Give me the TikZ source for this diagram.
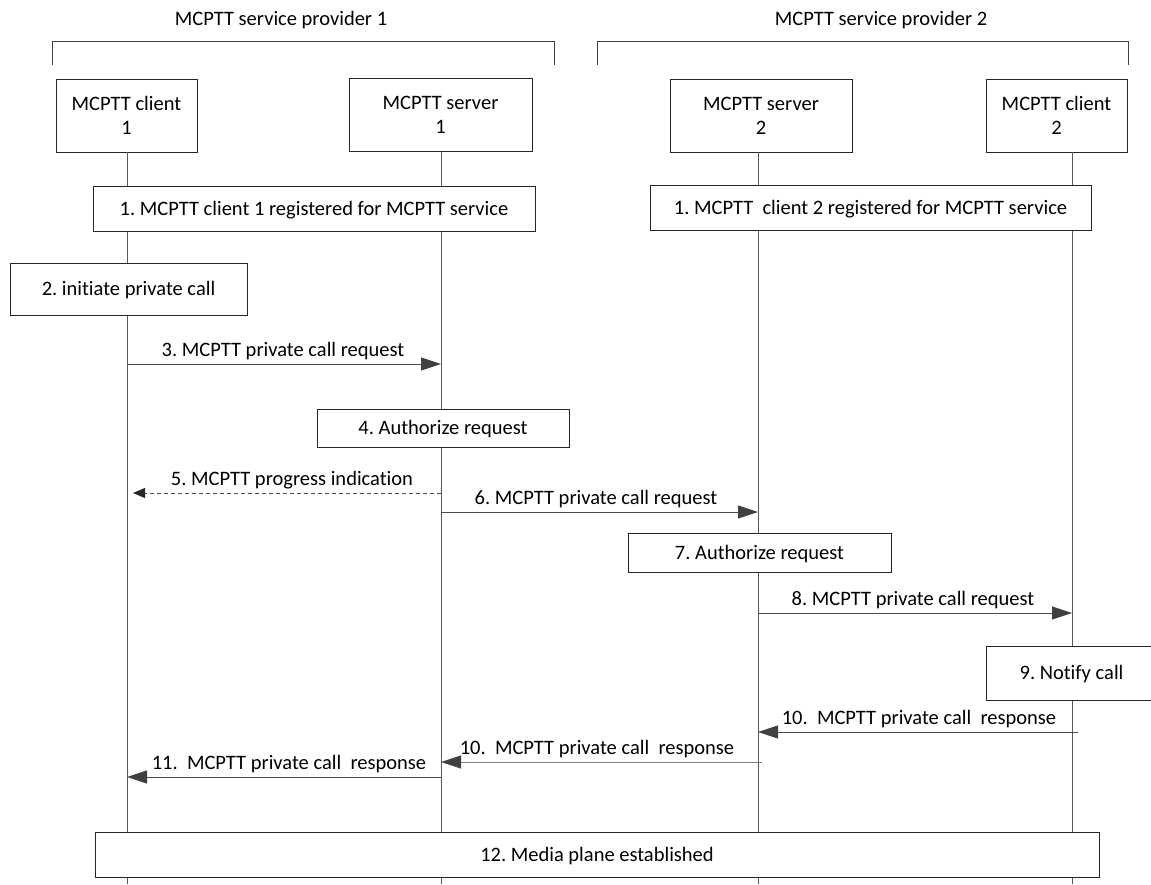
\documentclass[tikz,border=0pt]{standalone}
\usepackage{fontspec}
\setmainfont{Carlito}[Ligatures={NoCommon}]
\frenchspacing
\usetikzlibrary{arrows.meta}
\tikzset{
  every node/.style={font=\fontsize{20.5}{24}\selectfont, inner sep=0pt},
  hdr/.style={draw=black!85, line width=0.8pt, fill=white, align=center, minimum height=73pt},
  stepbox/.style={draw=black!85, line width=0.8pt, fill=white, text height=13.2pt, text depth=0pt},
  lifeline/.style={draw=black!65, line width=0.8pt},
  bracket/.style={draw=black!75, line width=0.8pt},
  msg/.style={draw=black!70, line width=0.8pt, -{Triangle[length=20pt,width=13pt,color=black!75]}},
  dmsg/.style={draw=black!70, line width=0.8pt, dash pattern=on 4pt off 3pt, -{Triangle[length=12pt,width=10pt,color=black!85]}},
  lbl/.style={anchor=base},
}
\begin{document}
\begin{tikzpicture}[x=1pt,y=-1pt]
\useasboundingbox (0,0) rectangle (1151,884);
% titles and brackets
\node (t1) at (281,20) {MCPTT service provider 1};
\node (t2) at (881,20) {MCPTT service provider 2};
\draw[bracket] (52,65) -- (52,41) -- (554,41) -- (554,65);
\draw[bracket] (597,65) -- (597,41) -- (1128,41) -- (1128,65);
% header boxes
\node[hdr, minimum width=141pt] (c1) at (126.5,115.5) {MCPTT client\\1};
\node[hdr, minimum width=183pt] (s1) at (440.5,115) {MCPTT server\\1};
\node[hdr, minimum width=182pt] (s2) at (761,115.5) {MCPTT server\\2};
\node[hdr, minimum width=141pt] (c2) at (1056.5,115.5) {MCPTT client\\2};
% lifelines
\coordinate (L1) at (127,152);
\coordinate (L2) at (441,152);
\coordinate (L3) at (758,152);
\coordinate (L4) at (1072,152);
\coordinate (bot) at (0,884);
\foreach \l in {L1,L2,L3,L4} \draw[lifeline] (\l) -- (\l |- bot);
% action boxes
\node[stepbox, minimum width=442pt, minimum height=45pt] (b1a) at (314,208.5) {1. MCPTT client 1 registered for MCPTT service};
\node[stepbox, minimum width=441pt, minimum height=45pt] (b1b) at (870.5,207.5) {1. MCPTT\ \ client 2 registered for MCPTT service};
\node[stepbox, minimum width=237pt, minimum height=52pt] (b2) at (128.5,289) {2. initiate private call};
\node[stepbox, minimum width=252pt, minimum height=38pt] (b4) at (443,428) {4. Authorize request};
\node[stepbox, minimum width=263pt, minimum height=39pt] (b7) at (759.5,552.5) {7. Authorize request};
\node[stepbox, minimum width=171pt, minimum height=54pt] (b9) at (1071.5,673) {9. Notify call};
\node[stepbox, minimum width=1004pt, minimum height=45pt] (b12) at (597,854.5) {12. Media plane established};
% message rows
\coordinate (r3) at (0,364);
\coordinate (r5) at (0,493);
\coordinate (r6) at (0,512);
\coordinate (r8) at (0,613);
\coordinate (r10a) at (0,732);
\coordinate (r10b) at (0,762);
\coordinate (r11) at (0,777);
\coordinate (e5) at (133,493);
\coordinate (s10a) at (1078,732);
\coordinate (s10b) at (762,762);
% messages
\draw[msg] (L1 |- r3) -- (L2 |- r3);
\node[lbl] (l3) at (283,356) {3. MCPTT private call request};
\draw[dmsg] (L2 |- r5) -- (e5);
\node[lbl] (l5) at (292,485) {5. MCPTT progress indication};
\draw[msg] (L2 |- r6) -- (L3 |- r6);
\node[lbl] (l6) at (596,504) {6. MCPTT private call request};
\draw[msg] (L3 |- r8) -- (L4 |- r8);
\node[lbl] (l8) at (913,605) {8. MCPTT private call request};
\draw[msg] (s10a) -- (L3 |- r10a);
\node[lbl] (l10a) at (919,724) {10.\ \ MCPTT private call\ \ response};
\draw[msg, draw=black!50] (s10b) -- (L2 |- r10b);
\node[lbl] (l10b) at (597,754) {10.\ \ MCPTT private call\ \ response};
\draw[msg] (L2 |- r11) -- (L1 |- r11);
\node[lbl] (l11) at (289,769) {11.\ \ MCPTT private call\ \ response};
\end{tikzpicture}
\end{document}
